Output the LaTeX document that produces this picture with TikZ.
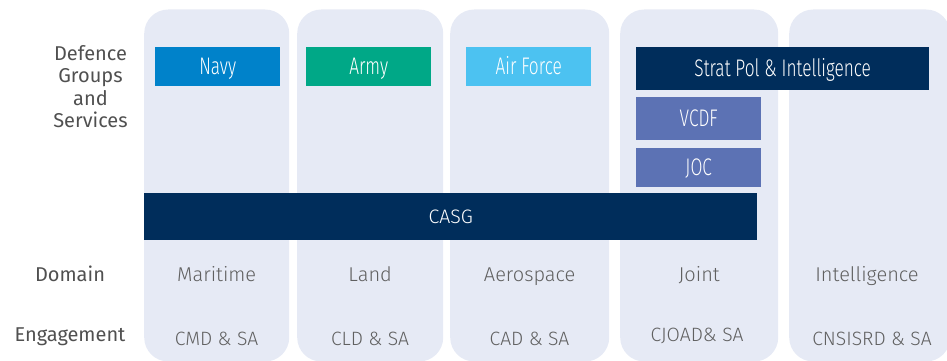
\documentclass[tikz,border=0pt]{standalone}
\usepackage{fontspec}
\setmainfont{Fira Sans Light}
\newfontfamily\headfont{Fira Sans}
\newfontfamily\boxfont{Fira Sans Light}[FakeStretch=0.72]

\definecolor{colfill}{HTML}{E6EAF5}
\definecolor{navyblue}{HTML}{0082CA}
\definecolor{armygreen}{HTML}{00A887}
\definecolor{airblue}{HTML}{4CC2F1}
\definecolor{darknavy}{HTML}{002D5B}
\definecolor{jointblue}{HTML}{5C72B4}
\definecolor{labelgray}{HTML}{505050}
\definecolor{cellgray}{HTML}{606060}

\begin{document}
\begin{tikzpicture}[x=1pt,y=-1pt,
  column/.style={fill=colfill, draw=none, rounded corners=24pt, anchor=north west,
    inner sep=0pt, minimum height=352pt},
  orgbox/.style={draw=none, anchor=north west, inner sep=0pt, text=white,
    font=\boxfont\fontsize{24}{26}\selectfont, text height=16.5pt, text depth=0pt},
  rowlabel/.style={anchor=base, inner sep=0pt, text=labelgray,
    font=\headfont\fontsize{20}{22.2}\selectfont},
  celltext/.style={anchor=base, inner sep=0pt, text=cellgray,
    font=\fontsize{20}{22}\selectfont},
  engtext/.style={anchor=base, inner sep=0pt, text=cellgray,
    font=\fontsize{19.3}{22}\selectfont}]

\useasboundingbox (0,0) rectangle (947,361);
\clip (0,0) rectangle (947,361);

% domain columns
\node[column, minimum width=145pt] (c1) at (144,9.3) {};
\node[column, minimum width=146pt] (c2) at (297,9.3) {};
\node[column, minimum width=159pt] (c3) at (450,9.3) {};
\node[column, minimum width=158pt] (c4) at (620,9.3) {};
\node[column, minimum width=161pt] (c5) at (789,9.3) {};

% groups and services
\node[orgbox, fill=navyblue, minimum width=125pt, minimum height=39pt] (navy) at (155,47) {Navy};
\node[orgbox, fill=armygreen, minimum width=125pt, minimum height=39pt] (army) at (306,47) {Army};
\node[orgbox, fill=airblue, minimum width=125pt, minimum height=39pt] (air) at (466,47) {Air Force};
\node[orgbox, fill=darknavy, minimum width=293pt, minimum height=42.7pt] (strat) at (636,47) {Strat Pol \& Intelligence};
\node[orgbox, fill=jointblue, minimum width=125pt, minimum height=42.7pt] (vcdf) at (636,97) {VCDF};
\node[orgbox, fill=jointblue, minimum width=125pt, minimum height=38.7pt] (joc) at (636,148) {JOC};
\node[orgbox, fill=darknavy, minimum width=613pt, minimum height=47pt,
  font=\fontsize{19.5}{22}\selectfont, text height=13.4pt] (casg) at (144,193) {CASG};

% row headings (the base of a multi-line node is its last line)
\node[rowlabel, align=center] (hgroups) at (90.5,127.3) {Defence\\Groups\\and\\Services};
\node[rowlabel] (hdomain) at (70,281.7) {Domain};
\node[rowlabel] (hengage) at (70,341.7) {Engagement};

% domain row
\node[celltext] (d1) at (c1.center |- hdomain.base) {Maritime};
\node[celltext] (d2) at (c2.center |- hdomain.base) {Land};
\node[celltext] (d3) at (c3.center |- hdomain.base) {Aerospace};
\node[celltext] (d4) at (c4.center |- hdomain.base) {Joint};
\node[celltext] (d5) at (867,281.7) {Intelligence};

% engagement row
\node[engtext] (e1) at (216.5,345.5) {CMD \& SA};
\node[engtext] (e2) at (370,345.5) {CLD \& SA};
\node[engtext] (e3) at (529.5,345.5) {CAD \& SA};
\node[engtext] (e4) at (697,341.7) {CJOAD\& SA};
\node[engtext] (e5) at (872,345.5) {CNSISRD \& SA};
\end{tikzpicture}
\end{document}
